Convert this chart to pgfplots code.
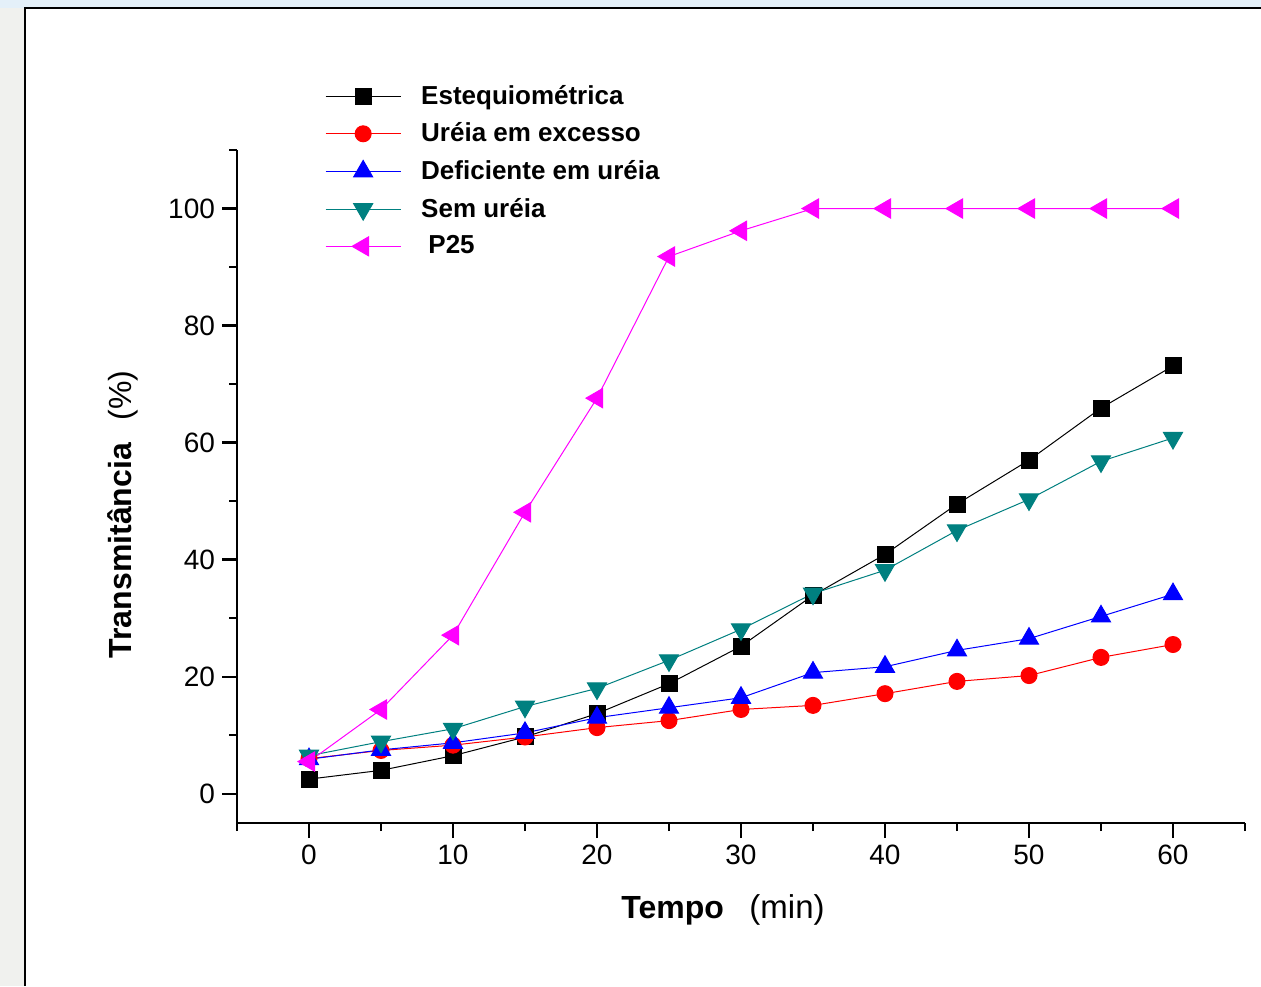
\documentclass[border=0pt]{standalone}
\usepackage{pgfplots}
\pgfplotsset{compat=1.18}
\usepackage{fontspec}
\setmainfont{Liberation Sans}
\definecolor{teal}{RGB}{0,128,128}
\definecolor{pink25}{RGB}{255,0,255}
\definecolor{bgblue}{RGB}{228,240,249}
\definecolor{bggray}{RGB}{240,241,238}

\begin{document}
\begin{tikzpicture}
% window frame around the chart (1 px = 0.5pt)
\begin{scope}[x=0.5pt,y=-0.5pt]
  \useasboundingbox (0,0) rectangle (1261,986);
  \fill[bggray] (0,0) rectangle (1261,986);
  \fill[bgblue] (0,0) rectangle (1261,8);
  \fill[white] (25,8) rectangle (1261,986);
  \draw[line width=1.4pt] (25,986) -- (25,8) -- (1261,8);
\end{scope}

\begin{axis}[
  at={(118.5pt,-411.5pt)}, anchor=south west,
  scale only axis, width=504pt, height=336.5pt,
  xmin=-5, xmax=65, ymin=-5, ymax=110,
  axis x line=bottom, axis y line=left,
  axis line style={-, line width=1.2pt},
  xtick={0,10,...,60}, minor xtick={-5,5,...,65},
  ytick={0,20,...,100}, minor ytick={10,30,...,110},
  tick align=outside,
  major tick length=7.5pt, minor tick length=4pt,
  every tick/.style={black, line width=1.2pt},
  ticklabel style={font=\fontsize{14}{16}\selectfont},
  /pgf/number format/assume math mode=true,
  xlabel={\fontsize{16}{19}\selectfont\textbf{Tempo}\hspace{0.8em}\fontsize{16.5}{19}\selectfont(min)},
  ylabel={\fontsize{16}{19}\selectfont\textbf{Transmitância}\hspace{0.7em}(\%)},
  xlabel style={yshift=-8pt, xshift=-9pt},
  ylabel style={yshift=8pt, xshift=-14pt},
  legend style={at={(0.087,1.103)}, anchor=north west, draw=none, fill=none,
    font=\fontsize{13}{15}\selectfont\bfseries, row sep=3.8pt, inner sep=0pt,
    nodes={inner xsep=10pt}},
  legend cell align=left,
  legend image code/.code={\draw[mark repeat=2,mark phase=2]
    plot coordinates {(0cm,0cm) (0.66cm,0cm) (1.32cm,0cm)};},
  every axis plot/.append style={line width=0.5pt},
]
\addplot[black, mark=square*, mark size=4pt, mark options={fill=black}] coordinates
  {(0,2.5) (5,4) (10,6.5) (15,9.7) (20,13.7) (25,18.8) (30,25.2) (35,33.9) (40,40.9) (45,49.5) (50,57.0) (55,65.9) (60,73.1)};
\addlegendentry{Estequiométrica}
\addplot[red, mark=*, mark size=4pt, mark options={fill=red}] coordinates
  {(0,6.0) (5,7.4) (10,8.3) (15,9.7) (20,11.3) (25,12.5) (30,14.4) (35,15.1) (40,17.1) (45,19.2) (50,20.2) (55,23.3) (60,25.5)};
\addlegendentry{Uréia em excesso}
\addplot[blue, mark=triangle*, mark size=5.5pt, mark options={fill=blue}] coordinates
  {(0,5.9) (5,7.5) (10,8.7) (15,10.4) (20,13.0) (25,14.7) (30,16.4) (35,20.7) (40,21.7) (45,24.5) (50,26.5) (55,30.3) (60,34.1)};
\addlegendentry{Deficiente em uréia}
\addplot[teal, mark=triangle*, mark size=5.5pt, mark options={fill=teal, rotate=180}] coordinates
  {(0,6.5) (5,8.9) (10,11.1) (15,14.9) (20,18.0) (25,22.8) (30,28.1) (35,34.2) (40,38.2) (45,45.0) (50,50.3) (55,56.8) (60,60.8)};
\addlegendentry{Sem uréia}
\addplot[pink25, mark=triangle*, mark size=5.5pt, mark options={fill=pink25, rotate=90}] coordinates
  {(0,5.5) (5,14.4) (10,27.1) (15,48.1) (20,67.6) (25,91.8) (30,96.2) (35,100) (40,100) (45,100) (50,100) (55,100) (60,100)};
\addlegendentry{\ P25}
\end{axis}
\end{tikzpicture}
\end{document}
